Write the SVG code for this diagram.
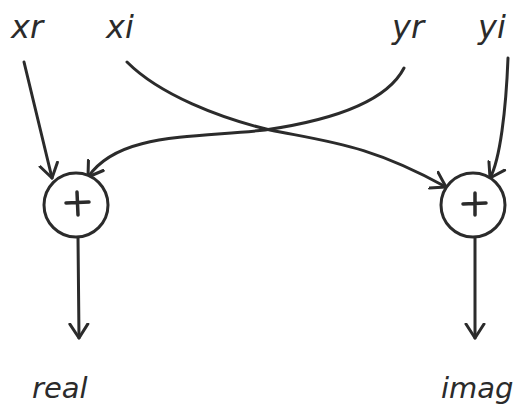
<svg xmlns="http://www.w3.org/2000/svg" width="522" height="420" viewBox="0 0 522 420">
<style>
.lbl{font-family:"DejaVu Sans","Liberation Sans",sans-serif;font-style:italic;fill:#2b2b2b}
.top{font-size:32px}
.bot{font-size:29px}
.edge{fill:none;stroke:#2b2b2b;stroke-width:3;stroke-linecap:round}
.node{fill:#fff;stroke:#2b2b2b;stroke-width:3}
.plus{stroke:#2b2b2b;stroke-width:3.5;stroke-linecap:round}
</style>
<defs>
<marker id="v" markerUnits="userSpaceOnUse" markerWidth="30" markerHeight="30" viewBox="-15 -15 30 30" refX="0" refY="0" orient="auto">
<path d="M-14,-9 L0,0 L-14,9" fill="none" stroke="#2b2b2b" stroke-width="3" stroke-linecap="round" stroke-linejoin="round"/>
</marker>
</defs>
<rect width="522" height="420" fill="#fff"/>
<g id="labels">
<text class="lbl top" x="11" y="38">xr</text>
<text class="lbl top" x="106" y="38">xi</text>
<text class="lbl top" x="392" y="38">yr</text>
<text class="lbl top" x="478" y="38">yi</text>
</g>
<g id="connectors">
<path class="edge" d="M24,62 L52,178" marker-end="url(#v)"/>
<path class="edge" d="M404,68 C385,105 320,122 265,130 C190,138 118,133 88,177" marker-end="url(#v)"/>
<path class="edge" d="M127,62 C160,95 220,118 270,130 C330,142 370,145 446,187" marker-end="url(#v)"/>
<path class="edge" d="M508,58 C506,110 500,160 490,178" marker-end="url(#v)"/>
<path class="edge" d="M78,237 L79,338" marker-end="url(#v)"/>
<path class="edge" d="M475,237 L475,338" marker-end="url(#v)"/>
</g>
<g id="add1">
<circle class="node" cx="76" cy="205" r="32"/>
<path class="plus" d="M66,203 L89,202 M77,192 L78,215"/>
</g>
<g id="add2">
<circle class="node" cx="473" cy="205" r="32"/>
<path class="plus" d="M463,204 L486,203 M475,193 L475,215"/>
</g>
<g id="outputs">
<text class="lbl bot" x="32" y="398">real</text>
<text class="lbl bot" x="441" y="398">imag</text>
</g>
</svg>
